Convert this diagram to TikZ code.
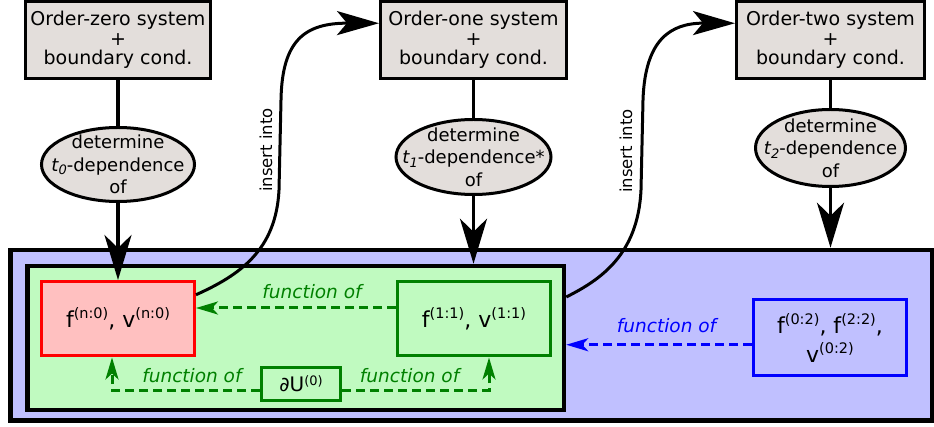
\documentclass[tikz,border=0pt]{standalone}
\usepackage{fontspec}
\setmainfont{DejaVu Sans}
\usetikzlibrary{arrows.meta,shapes.geometric}
\definecolor{boxgray}{RGB}{227,222,219}
\definecolor{bluebg}{RGB}{192,192,255}
\definecolor{greenbg}{RGB}{192,250,192}
\definecolor{pinkbg}{RGB}{255,192,192}
\definecolor{dgreen}{RGB}{0,128,0}
\newcommand\supx[1]{\raisebox{9pt}{\fontsize{14.5}{14.5}\selectfont #1}}
\newcommand\subx[1]{\raisebox{-3.5pt}{\fontsize{13}{13}\selectfont #1}}
\begin{document}
\begin{tikzpicture}[x=1pt,y=-1pt,
  sysbox/.style={draw=black, line width=3pt, fill=boxgray, rectangle, inner sep=0pt,
    align=center, font=\fontsize{19}{19.5}\selectfont},
  detell/.style={draw=black, line width=3pt, fill=boxgray, ellipse, inner sep=0pt},
  detlabel/.style={align=center, font=\fontsize{18}{22.5}\selectfont, inner sep=0pt},
  bigframe/.style={draw=black, line width=4.5pt, rectangle, inner sep=0pt},
  fbox/.style={line width=3pt, rectangle, inner sep=0pt, minimum width=153pt,
    minimum height=74.5pt, font=\fontsize{22}{22}\selectfont},
  conn/.style={draw=black, line width=3.5pt},
  bigarrow/.style={draw=black, line width=3.5pt, -{Stealth[length=45pt,width=27pt,inset=13pt]}},
  insarrow/.style={draw=black, line width=3pt, -{Stealth[length=42pt,width=24pt,inset=10pt]}},
  gdash/.style={draw=dgreen, line width=3pt, dash pattern=on 9pt off 5pt,
    -{Stealth[length=22pt,width=13pt,inset=6pt]}},
  bdash/.style={draw=blue, line width=3pt, dash pattern=on 9pt off 5pt,
    -{Stealth[length=22pt,width=13pt,inset=6pt]}},
  flab/.style={font=\fontsize{18.5}{18.5}\selectfont\itshape, text=dgreen, inner sep=0pt, anchor=base},
  inslab/.style={rotate=90, font=\fontsize{16.5}{16.5}\selectfont, inner sep=0pt}
]
\useasboundingbox (0,0) rectangle (934,427);

% frames
\node[bigframe, fill=bluebg, minimum width=921.5pt, minimum height=170.5pt] (outer) at (471.25,335.25) {};
\node[bigframe, fill=greenbg, minimum width=536.5pt, minimum height=144pt] (grn) at (295.75,338) {};

% system boxes
\node[sysbox, minimum width=185pt, minimum height=77pt] (g1) at (118,40) {Order-zero system\\+\\boundary cond.};
\node[sysbox, minimum width=186pt, minimum height=77.5pt] (g2) at (473.5,40.25) {Order-one system\\+\\boundary cond.};
\node[sysbox, minimum width=188pt, minimum height=77.5pt] (g3) at (830.5,40.25) {Order-two system\\+\\boundary cond.};

% ellipses
\node[detell, minimum width=153pt, minimum height=74pt] (e1) at (118,164.5) {};
\node[detlabel] (t1) at (e1) {determine\\{\itshape t\subx{0}}-dependence\\of};
\node[detell, minimum width=155pt, minimum height=75pt] (e2) at (473.5,157) {};
\node[detlabel] (t2) at (e2) {determine\\{\itshape t\subx{1}}-dependence*\\of};
\node[detell, minimum width=150pt, minimum height=77pt] (e3) at (830.5,148) {};
\node[detlabel] (t3) at (e3) {determine\\{\itshape t\subx{2}}-dependence\\of};

% quantity boxes
\node[fbox, draw=red, fill=pinkbg] (red) at (118,318.75) {f\supx{(n:0)}, v\supx{(n:0)}};
\node[fbox, draw=dgreen, fill=greenbg] (f11) at (474,318.75) {f\supx{(1:1)}, v\supx{(1:1)}};
\node[fbox, draw=dgreen, fill=greenbg, minimum width=79pt, minimum height=33pt,
  font=\fontsize{20}{20}\selectfont] (dU) at (301,384) {∂U\raisebox{5.7pt}{\fontsize{13}{13}\selectfont (0)}};
\node[fbox, draw=blue, fill=bluebg, minimum width=153pt, minimum height=75.5pt, align=center,
  font=\fontsize{22}{29}\selectfont] (bb) at (830,337.75) {f\supx{(0:2)}, f\supx{(2:2)},\\v\supx{(0:2)}};

% vertical connectors
\draw[conn] (g1) -- (e1);
\draw[conn] (g2) -- (e2);
\draw[conn] (g3) -- (e3);
\draw[bigarrow] (e1) -- (red);
\draw[bigarrow] (e2) -- (e2 |- grn.north);
\draw[bigarrow] (e3) -- (e3 |- outer.north);

% insert into curves
\draw[insarrow] ([yshift=24pt]red.east) .. controls (240,275) and (276,250) .. (279,190)
  -- (281,100) .. controls (282,40) and (305,23) .. ([yshift=17pt]g2.west);
\node[inslab] (ins1) at (266,150) {insert into};
\draw[insarrow] ([yshift=41pt]grn.east) .. controls (600,280) and (638,255) .. (641,190)
  -- (643,100) .. controls (645,40) and (670,23) .. ([yshift=17pt]g3.west);
\node[inslab] (ins2) at (626,151) {insert into};

% function-of connectors
\draw[gdash] ([yshift=10.75pt]f11.west) -- ([yshift=10.75pt]red.east)
  node[flab, pos=0.42, yshift=9pt] (fo1) {function of};
\draw[gdash] ([yshift=-6pt]dU.west) -| ([xshift=-6pt]red.south)
  node[flab, pos=0.23, yshift=8pt] (fo2) {function of};
\draw[gdash] ([yshift=-6pt]dU.east) -| ([xshift=15pt]f11.south)
  node[flab, pos=0.23, yshift=8pt] (fo3) {function of};
\draw[bdash] ([yshift=-7pt]bb.west) -- ([yshift=-7pt]bb.west -| grn.east)
  node[flab, text=blue, pos=0.46, yshift=12pt] (fo4) {function of};
\end{tikzpicture}
\end{document}
